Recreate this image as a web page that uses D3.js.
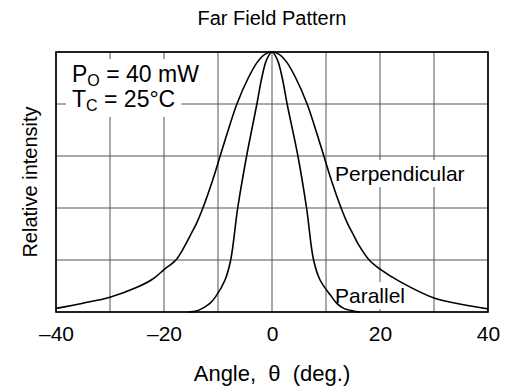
<!DOCTYPE html>
<html>
<head>
  <meta charset="utf-8">
  <title>Far Field Pattern</title>
  <script src="https://d3js.org/d3.v7.min.js"></script>
  <style>
    body { margin: 0; background: #fff; }
    text { font-family: "Liberation Sans", Arial, sans-serif; fill: #000; }
    .grid line { stroke: #555; stroke-width: 1px; }
    .curve { fill: none; stroke: #000; stroke-width: 1.6px; }
  </style>
</head>
<body>
  <div id="chart"></div>
  <script>
    // values (angle in deg, relative intensity 0..1)
    const perpAngle = [-40, -35, -30, -25, -22, -20, -17.8, -16, -15, -14, -12.8, -11.1, -9.6, -8.1, -6.5, -4.4, -2.75, -1.4, 0,
                       1.4, 2.75, 4.4, 6.5, 8.1, 9.6, 11.1, 12.8, 14, 15, 16, 18, 20, 23.7, 30, 35, 40];
    const perpValue = [0.014, 0.034, 0.057, 0.095, 0.128, 0.163, 0.2, 0.26, 0.3, 0.34, 0.4, 0.5, 0.6, 0.7, 0.8, 0.9, 0.96, 0.99, 1,
                       0.99, 0.96, 0.9, 0.8, 0.7, 0.6, 0.5, 0.4, 0.34, 0.3, 0.26, 0.2, 0.165, 0.117, 0.054, 0.03, 0.012];

    const parAngle = [-15.5, -14, -12.8, -11.5, -10.4, -8.7, -7.65, -6.35, -4.7, -2.8, -1.9, -1, 0,
                      1, 1.9, 2.8, 4.8, 6.4, 7.7, 8.9, 11, 12, 13.2, 15, 16.3];
    const parValue = [0, 0.004, 0.015, 0.033, 0.06, 0.123, 0.2, 0.4, 0.6, 0.8, 0.9, 0.97, 1,
                      0.97, 0.9, 0.8, 0.6, 0.4, 0.2, 0.123, 0.06, 0.033, 0.015, 0.004, 0];

    const xTicks = [-40, -30, -20, -10, 0, 10, 20, 30, 40];
    const xLabels = [-40, -20, 0, 20, 40];
    const yGrid = [0, 0.2, 0.4, 0.6, 0.8, 1];

    const margin = {top: 52, right: 20, bottom: 80, left: 56},
          W = 508, H = 392,
          width = W - margin.left - margin.right,
          height = H - margin.top - margin.bottom;

    const svg = d3.select("#chart").append("svg")
      .attr("width", W)
      .attr("height", H);

    svg.append("rect").attr("width", W).attr("height", H).attr("fill", "#fff");

    const g = svg.append("g")
      .attr("transform", `translate(${margin.left},${margin.top})`);

    const x = d3.scaleLinear().domain([-40, 40]).range([0, width]);
    const y = d3.scaleLinear().domain([0, 1]).range([height, 0]);

    // grid
    const grid = g.append("g").attr("class", "grid");
    grid.selectAll(".v").data(xTicks).join("line")
      .attr("x1", d => x(d)).attr("x2", d => x(d))
      .attr("y1", 0).attr("y2", height);
    grid.selectAll(".h").data(yGrid).join("line")
      .attr("x1", 0).attr("x2", width)
      .attr("y1", d => y(d)).attr("y2", d => y(d));

    // labels with white boxes hiding the grid (boxes in their own layer under all text)
    const boxes = g.append("g");
    const notes = g.append("g");
    function boxed(tx, ty, size, parts, padX, padY) {
      const bg = boxes.append("rect").attr("fill", "#fff");
      const t = notes.append("text").attr("x", tx).attr("y", ty).style("font-size", size + "px");
      parts.forEach(p => {
        const s = t.append("tspan").text(p.t);
        if (p.sub) s.style("font-size", Math.round(size * 0.68) + "px").attr("dy", 4);
        if (p.up) s.attr("dy", -4);
      });
      const b = t.node().getBBox();
      bg.attr("x", b.x - padX).attr("y", b.y - padY)
        .attr("width", b.width + 2 * padX).attr("height", b.height + 2 * padY);
    }

    boxed(16, 30, 23, [{t: "P"}, {t: "O", sub: true}, {t: " = 40 mW", up: true}], 6, 2);
    boxed(16, 55, 23, [{t: "T"}, {t: "C", sub: true}, {t: " = 25°C", up: true}], 6, 3);
    boxed(279, 129, 21, [{t: "Perpendicular"}], 3, 2);
    boxed(279, 251, 21, [{t: "Parallel"}], 3, 2);

    // curves
    const line = d3.line()
      .x(d => x(d[0]))
      .y(d => y(d[1]))
      .curve(d3.curveCatmullRom.alpha(0.5));

    g.append("path").attr("class", "curve")
      .attr("d", line(perpAngle.map((a, i) => [a, perpValue[i]])));
    g.append("path").attr("class", "curve")
      .attr("d", line(parAngle.map((a, i) => [a, parValue[i]])));

    // frame
    g.append("rect")
      .attr("width", width).attr("height", height)
      .attr("fill", "none").attr("stroke", "#000").attr("stroke-width", 1.6);

    // x axis labels
    const xAxis = d3.axisBottom(x)
      .tickValues(xLabels)
      .tickSize(0)
      .tickPadding(14)
      .tickFormat(d => d < 0 ? "\u2013" + Math.abs(d) : d);
    g.append("g")
      .attr("transform", `translate(0,${height})`)
      .call(xAxis)
      .call(a => a.select(".domain").remove())
      .selectAll("text")
        .style("font-size", "21px")
        .style("font-family", "'Liberation Sans', Arial, sans-serif");

    // titles
    svg.append("text")
      .attr("x", margin.left + width / 2)
      .attr("y", 25)
      .attr("text-anchor", "middle")
      .style("font-size", "20px")
      .text("Far Field Pattern");

    svg.append("text")
      .attr("x", margin.left + width / 2)
      .attr("y", 381)
      .attr("text-anchor", "middle")
      .style("font-size", "22px")
      .attr("xml:space", "preserve")
      .text("Angle,  \u03b8  (deg.)");

    svg.append("text")
      .attr("transform", `translate(37,${margin.top + height / 2}) rotate(-90)`)
      .attr("text-anchor", "middle")
      .style("font-size", "20px")
      .text("Relative intensity");
  </script>
</body>
</html>
